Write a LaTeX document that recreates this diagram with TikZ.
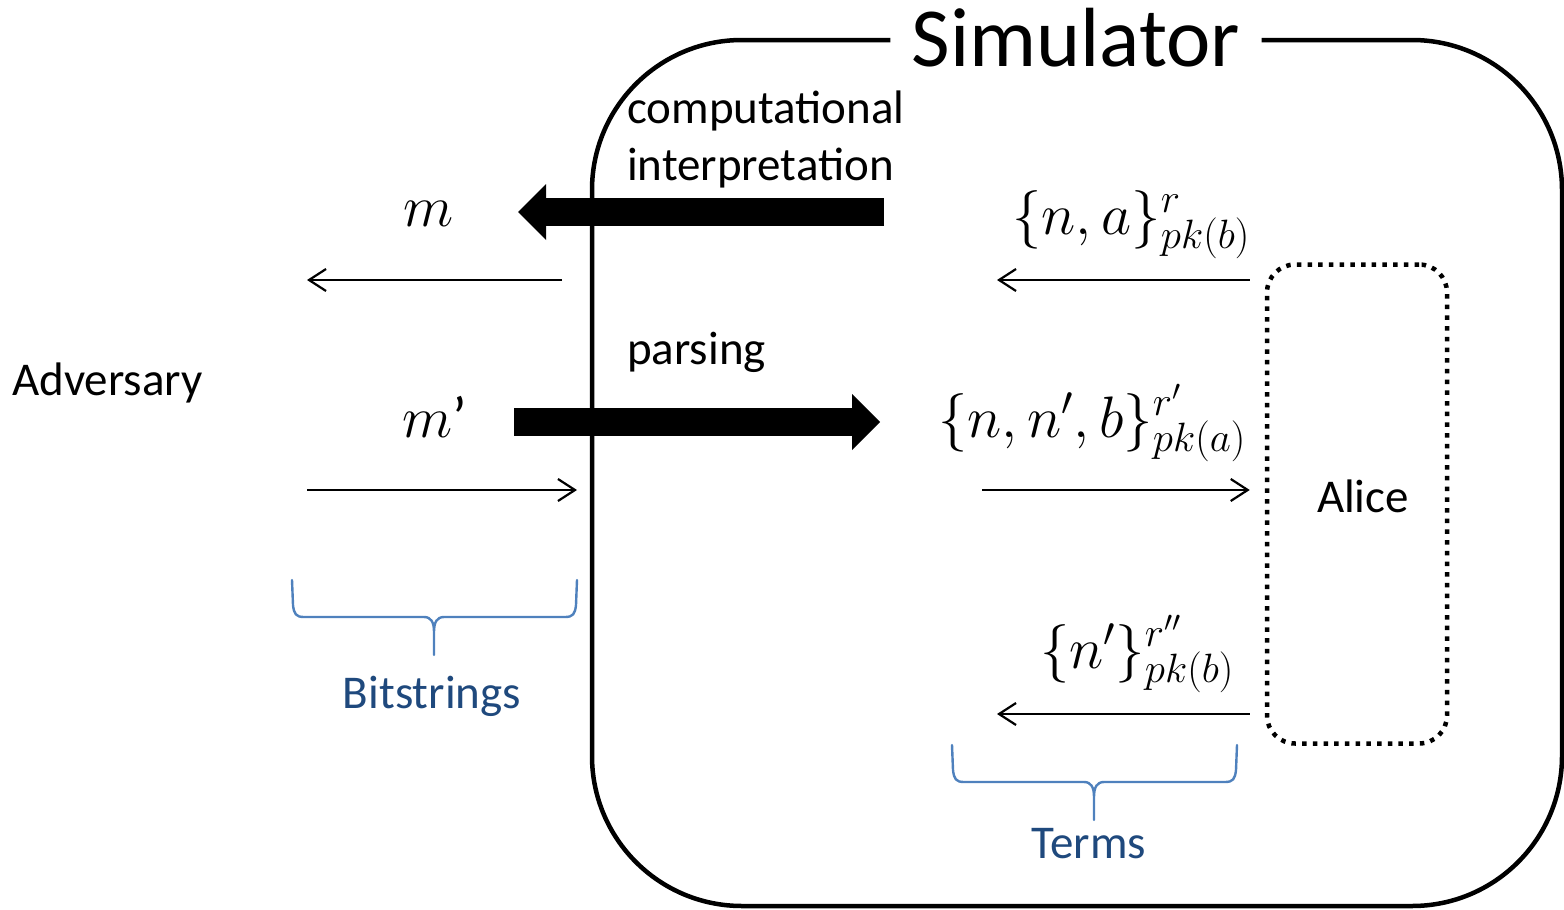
\RequirePackage{fix-cm}
\documentclass[tikz,border=0pt]{standalone}
\usepackage[no-math]{fontspec}
\setmainfont{Carlito}
\usetikzlibrary{arrows.meta}
\definecolor{bracecol}{HTML}{4F81BD}
\definecolor{labelcol}{HTML}{1F497D}
\tikzset{
  frame/.style={line width=4.5pt, rounded corners=150pt},
  alicebox/.style={draw, line width=4.5pt, dash pattern=on 4.5pt off 6.2pt,
    rounded corners=28pt, minimum width=180pt, minimum height=479pt},
  lbl/.style={inner sep=0pt, font=\fontsize{47}{57}\selectfont},
  bluelbl/.style={lbl, text=labelcol},
  mathlbl/.style={inner sep=0pt, font=\fontsize{58.5}{66}\selectfont},
  msg/.style={line width=2.2pt, -{Straight Barb[length=17pt,width=22pt]}},
  bigarrow/.style={line width=28pt, -{Triangle[length=28pt,width=56pt,line width=0pt]}},
  brace/.style={line width=2.4pt, draw=bracecol, line cap=round}
}
\begin{document}
\begin{tikzpicture}[x=1pt,y=-1pt]
\useasboundingbox (0,0) rectangle (1564,910);

% simulator frame with its title set into the top edge
\node[anchor=base, inner xsep=21pt, font=\fontsize{84}{90}\selectfont] (sim) at (1076,66) {Simulator};
\coordinate (tl) at (592,40);
\coordinate (br) at (1562,906);
\draw[frame] (sim.west |- tl) -- (tl) -- (tl |- br) -- (br) -- (br |- tl) -- (sim.east |- tl);

% Alice
\node[alicebox] (alice) at (1357,504) {};
\node[lbl, anchor=base] (alicename) at (1363,512) {Alice};

% left side labels
\node[lbl, anchor=base west] (adv) at (12,395) {Adversary};
\node[lbl, anchor=base west, align=left] (interp) at (627,180) {computational\\interpretation};
\node[lbl, anchor=base west] (parse) at (627,364) {parsing};

% messages
\node[mathlbl, anchor=base] (m) at (429,226) {$m$};
\node[mathlbl, anchor=base west] (mp) at (402,437) {$m$\textquoteright};
\node[mathlbl, anchor=base east] (t1) at (1250,234) {$\{n,a\}^{r}_{pk(b)}$};
\node[mathlbl, anchor=base east] (t2) at (1246,437) {$\{n,n',b\}^{r'}_{pk(a)}$};
\node[mathlbl, anchor=base east] (t3) at (1234,668) {$\{n'\}^{r''}_{pk(b)}$};

% interpretation and parsing
\coordinate (i1) at (884,212);
\coordinate (i2) at (518,212);
\coordinate (p1) at (514,422);
\coordinate (p2) at (880,422);
\draw[bigarrow] (i1) -- (i2);
\draw[bigarrow] (p1) -- (p2);

% message flow
\coordinate (b1s) at (562,280);
\coordinate (b1e) at (307,280);
\coordinate (b2s) at (307,490);
\coordinate (b2e) at (577,490);
\coordinate (a1s) at ([xshift=-15pt]alice.west |- b1s);
\coordinate (a1e) at (997,280);
\coordinate (a2s) at (982,490);
\coordinate (a2e) at ([xshift=-15pt]alice.west |- b2s);
\coordinate (a3s) at ([xshift=-15pt]alice.west |- 0,714);
\coordinate (a3e) at (997,714);
\draw[msg] (b1s) -- (b1e);
\draw[msg] (b2s) -- (b2e);
\draw[msg] (a1s) -- (a1e);
\draw[msg] (a2s) -- (a2e);
\draw[msg] (a3s) -- (a3e);

% braces under the two message domains
\draw[brace] (292,580) -- (293,605) .. controls (294,614) and (296,617) .. (304,617)
  -- (424,617) .. controls (431,617) and (434,622) .. (434,632) -- (434,655)
  (577,580) -- (576,605) .. controls (575,614) and (573,617) .. (565,617)
  -- (444,617) .. controls (437,617) and (434,622) .. (434,632);
\draw[brace] (952,745) -- (953,770) .. controls (954,779) and (956,782) .. (964,782)
  -- (1084,782) .. controls (1091,782) and (1094,787) .. (1094,797) -- (1094,820)
  (1237,745) -- (1236,770) .. controls (1235,779) and (1233,782) .. (1225,782)
  -- (1104,782) .. controls (1097,782) and (1094,787) .. (1094,797);
\node[bluelbl, anchor=base] (bits) at (432,708) {Bitstrings};
\node[bluelbl, anchor=base] (terms) at (1089,858) {Terms};
\end{tikzpicture}
\end{document}
